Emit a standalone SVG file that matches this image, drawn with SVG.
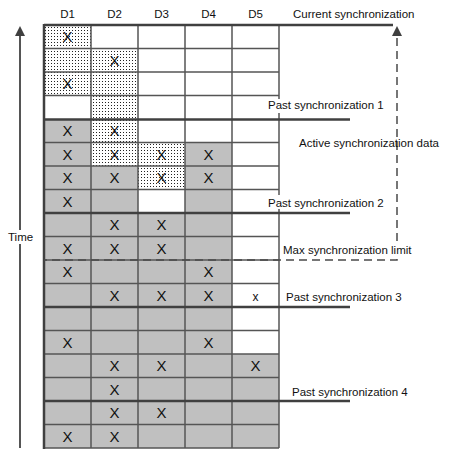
<svg xmlns="http://www.w3.org/2000/svg" width="455" height="455" viewBox="0 0 455 455">
<defs>
<pattern id="dots" width="3" height="3" patternUnits="userSpaceOnUse"><rect width="3" height="3" fill="#fff"/><rect width="1" height="1" fill="#222"/></pattern>
<style>
text{font-family:"Liberation Sans",Arial,sans-serif;fill:#111}
.lbl{font-size:11.5px}
.hd{font-size:11.5px;text-anchor:middle}
.x{font-size:15px;text-anchor:middle}
.g{fill:#c0c0c0}
.w{fill:#fff}
.d{fill:url(#dots)}
.grid{stroke:#555;stroke-width:1.5;fill:none}
.thick{stroke:#404040;stroke-width:2.5;fill:none}
.dash{stroke:#4a4a4a;stroke-width:1.5;stroke-dasharray:8,5;fill:none}
.head{fill:#404040}
</style>
</defs>
<rect width="455" height="455" fill="#fff"/>
<g id="headers">
<text class="hd" x="67.5" y="18">D1</text>
<text class="hd" x="114.5" y="18">D2</text>
<text class="hd" x="161.5" y="18">D3</text>
<text class="hd" x="208.5" y="18">D4</text>
<text class="hd" x="255.5" y="18">D5</text>
</g>
<g id="cells">
<rect class="d" x="44" y="25" width="47" height="23.5"/>
<rect class="d" x="44" y="48.5" width="94" height="23.5"/>
<rect class="d" x="44" y="72" width="94" height="23.5"/>
<rect class="d" x="91" y="95.5" width="47" height="23.5"/>
<rect class="g" x="44" y="119" width="47" height="23.5"/>
<rect class="d" x="91" y="119" width="47" height="23.5"/>
<rect class="g" x="44" y="142.5" width="47" height="23.5"/>
<rect class="d" x="91" y="142.5" width="94" height="23.5"/>
<rect class="g" x="185" y="142.5" width="47" height="23.5"/>
<rect class="g" x="44" y="166" width="94" height="23.5"/>
<rect class="d" x="138" y="166" width="47" height="23.5"/>
<rect class="g" x="185" y="166" width="47" height="23.5"/>
<rect class="g" x="44" y="189.5" width="94" height="23.5"/>
<rect class="g" x="185" y="189.5" width="47" height="23.5"/>
<rect class="g" x="44" y="213" width="188" height="141"/>
<rect class="g" x="44" y="354" width="235" height="94"/>
</g>
<g id="gridlines">
<path class="grid" d="M91,25V448 M138,25V448 M185,25V448 M232,25V448 M279,25V448"/>
<path class="grid" d="M44,48.5H279 M44,72H279 M44,95.5H279 M44,142.5H279 M44,166H279 M44,189.5H279 M44,236.5H279 M44,260H279 M44,283.5H279 M44,330.5H279 M44,354H279 M44,377.5H279 M44,424.5H279 M44,448H279"/>
<path class="thick" d="M44,24V449"/>
</g>
<g id="marks">
<text class="x" x="67.5" y="42">X</text>
<text class="x" x="114.5" y="66">X</text>
<text class="x" x="67.5" y="89">X</text>
<text class="x" x="67.5" y="136">X</text>
<text class="x" x="114.5" y="136">X</text>
<text class="x" x="67.5" y="160">X</text>
<text class="x" x="114.5" y="160">X</text>
<text class="x" x="161.5" y="160">X</text>
<text class="x" x="208.5" y="160">X</text>
<text class="x" x="67.5" y="183">X</text>
<text class="x" x="114.5" y="183">X</text>
<text class="x" x="161.5" y="183">X</text>
<text class="x" x="208.5" y="183">X</text>
<text class="x" x="67.5" y="207">X</text>
<text class="x" x="114.5" y="230">X</text>
<text class="x" x="161.5" y="230">X</text>
<text class="x" x="67.5" y="254">X</text>
<text class="x" x="114.5" y="254">X</text>
<text class="x" x="161.5" y="254">X</text>
<text class="x" x="67.5" y="277">X</text>
<text class="x" x="208.5" y="277">X</text>
<text class="x" x="114.5" y="301">X</text>
<text class="x" x="161.5" y="301">X</text>
<text class="x" x="208.5" y="301">X</text>
<text class="x" x="255.5" y="301" style="font-size:12px">x</text>
<text class="x" x="67.5" y="348">X</text>
<text class="x" x="208.5" y="348">X</text>
<text class="x" x="114.5" y="371">X</text>
<text class="x" x="161.5" y="371">X</text>
<text class="x" x="255.5" y="371">X</text>
<text class="x" x="114.5" y="395">X</text>
<text class="x" x="114.5" y="418">X</text>
<text class="x" x="161.5" y="418">X</text>
<text class="x" x="67.5" y="442">X</text>
<text class="x" x="114.5" y="442">X</text>
</g>
<g id="connectors">
<path class="thick" d="M44,25H393"/>
<path class="thick" d="M44,119.5H350 M44,213H350 M44,307H350 M44,401H350"/>
<path class="dash" d="M397,38V260H44"/>
<polygon class="head" points="397,26 392,36 402,36"/>
<path d="M20,448V34" stroke="#555" stroke-width="2" fill="none"/>
<polygon class="head" points="20,26 15,36 25,36"/>
</g>
<g id="labels">
<text class="lbl" x="293" y="18">Current synchronization</text>
<rect x="266" y="99" width="124" height="14" fill="#fff"/>
<text class="lbl" x="268" y="109">Past synchronization 1</text>
<text class="lbl" x="299" y="147">Active synchronization data</text>
<rect x="266" y="195" width="124" height="14" fill="#fff"/>
<text class="lbl" x="268" y="207">Past synchronization 2</text>
<rect x="281" y="243" width="142" height="14" fill="#fff"/>
<text class="lbl" x="283" y="254">Max synchronization limit</text>
<text class="lbl" x="286" y="301">Past synchronization 3</text>
<text class="lbl" x="292" y="396">Past synchronization 4</text>
<rect x="7" y="230" width="28" height="14" fill="#fff"/>
<text class="lbl" x="8" y="241">Time</text>
</g>
</svg>
